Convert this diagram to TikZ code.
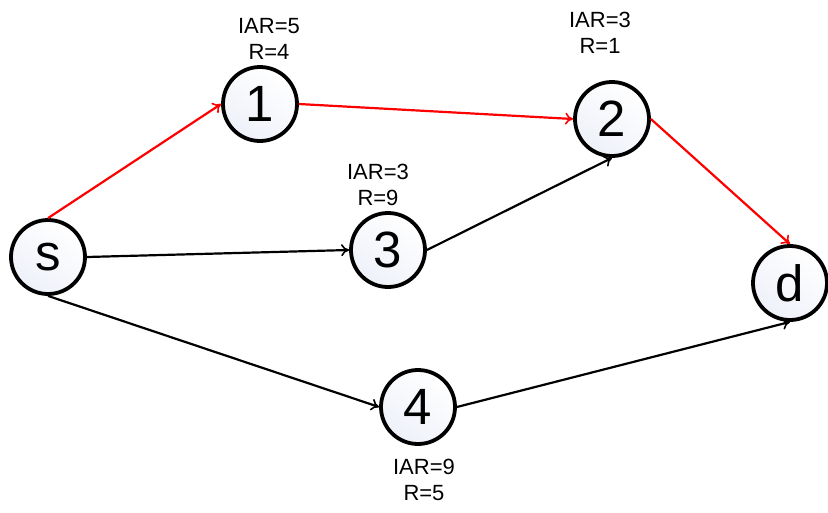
\documentclass[tikz,border=0pt]{standalone}
\usepackage{fontspec}
\setmainfont{Liberation Sans}
\usetikzlibrary{arrows.meta}
\definecolor{nodeshade}{HTML}{EEF1F9}
\tikzset{
  vert/.style={circle, draw=black, line width=3.8pt, minimum size=74pt, inner sep=0pt,
    top color=white, bottom color=nodeshade, shading angle=-35, font=\fontsize{51}{51}\selectfont},
  lbl/.style={align=center, font=\fontsize{22}{26}\selectfont, inner sep=0pt},
  edge/.style={line width=2.2pt, -{To[length=8pt,width=12pt,line width=1.6pt]}},
  redge/.style={edge, draw=red},
  bedge/.style={edge, draw=black}
}
\begin{document}
\begin{tikzpicture}[x=1pt,y=-1pt]
\useasboundingbox (0,0) rectangle (828,512);
\node[vert] (s) at (48,257) {s};
\node[vert] (n1) at (260,104) {1};
\node[vert] (n2) at (612,119) {2};
\node[vert] (n3) at (388,250) {3};
\node[vert] (n4) at (418,407) {4};
\node[vert] (d) at (790,283) {d};
\node[lbl] (l1) at (269,39) {IAR=5\\R=4};
\node[lbl] (l2) at (600,33) {IAR=3\\R=1};
\node[lbl] (l3) at (378,185) {IAR=3\\R=9};
\node[lbl] (l4) at (424,480) {IAR=9\\R=5};
\draw[redge] (s.north) -- (n1.west);
\draw[redge] (n1.east) -- (n2.west);
\draw[redge] (n2.east) -- (d.north);
\draw[bedge] (s.east) -- (n3.west);
\draw[bedge] (n3.east) -- (n2.south);
\draw[bedge] (s.south) -- (n4.west);
\draw[bedge] (n4.east) -- (d.south);
\end{tikzpicture}
\end{document}
